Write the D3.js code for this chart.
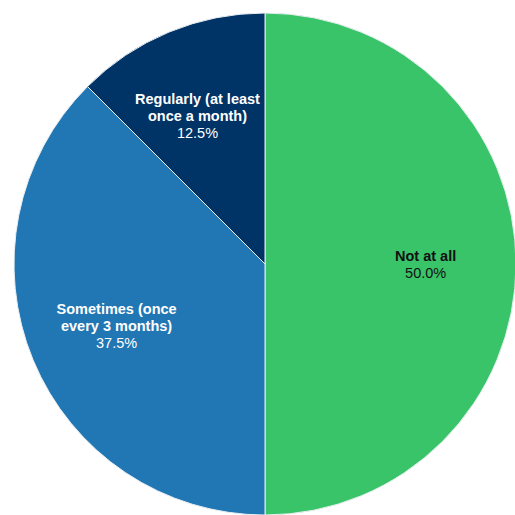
<!DOCTYPE html>
<html>
<head>
<meta charset="utf-8">
<script src="https://cdn.jsdelivr.net/npm/d3@7"></script>
<style>
  body { margin: 0; background: #fff; }
  svg { display: block; font-family: "Liberation Sans", Arial, sans-serif; }
</style>
</head>
<body>
<div id="chart"></div>
<script>
// answers, in clockwise order from the top
let categories = ['Not at all', 'Sometimes (once every 3 months)', 'Regularly (at least once a month)']
let labelLines = [['Not at all'], ['Sometimes (once', 'every 3 months)'], ['Regularly (at least', 'once a month)']]
let shares = [50.0, 37.5, 12.5]
let colors = ['#3ac46a', '#2176b4', '#003366']
let textColors = ['#111111', '#ffffff', '#ffffff']

let w = 515
let h = 515
let cx = 265
let cy = 264
let r = 251

let svg = d3.select('#chart')
    .append('svg')
    .attr('width', w)
    .attr('height', h)

let g = svg.append('g').attr('transform', 'translate(' + cx + ',' + cy + ')')

let pie = d3.pie().sort(null).value(d => d)
let arcs = pie(shares)

let arc = d3.arc().innerRadius(0).outerRadius(r)
let labelArc = d3.arc().innerRadius(r * 0.64).outerRadius(r * 0.64)

g.selectAll('path')
    .data(arcs)
    .enter()
    .append('path')
    .attr('d', arc)
    .attr('fill', (d, i) => colors[i])
    .attr('stroke', '#e8eef2')
    .attr('stroke-width', 1)

// labels: bold name lines then the percentage
let lineH = 17
arcs.forEach((d, i) => {
    let c = labelArc.centroid(d)
    let lines = labelLines[i]
    let n = lines.length + 1
    let top = c[1] - (n - 1) * lineH / 2
    let t = g.append('text')
        .attr('text-anchor', 'middle')
        .attr('fill', textColors[i])
        .style('font-size', '14.5px')
    lines.forEach((s, j) => {
        t.append('tspan')
            .attr('x', 0)
            .attr('y', top + j * lineH)
            .attr('dy', '0.35em')
            .style('font-weight', 'bold')
            .text(s)
    })
    t.append('tspan')
        .attr('x', 0)
        .attr('y', top + lines.length * lineH)
        .attr('dy', '0.35em')
        .text(d3.format('.1f')(shares[i]) + '%')

    // keep labels of left-half slices off the vertical divider
    let x = c[0]
    let half = t.node().getBBox().width / 2
    if (d.startAngle >= Math.PI && x + half > -5) x = -5 - half
    t.selectAll('tspan').attr('x', x)
})
</script>
</body>
</html>
